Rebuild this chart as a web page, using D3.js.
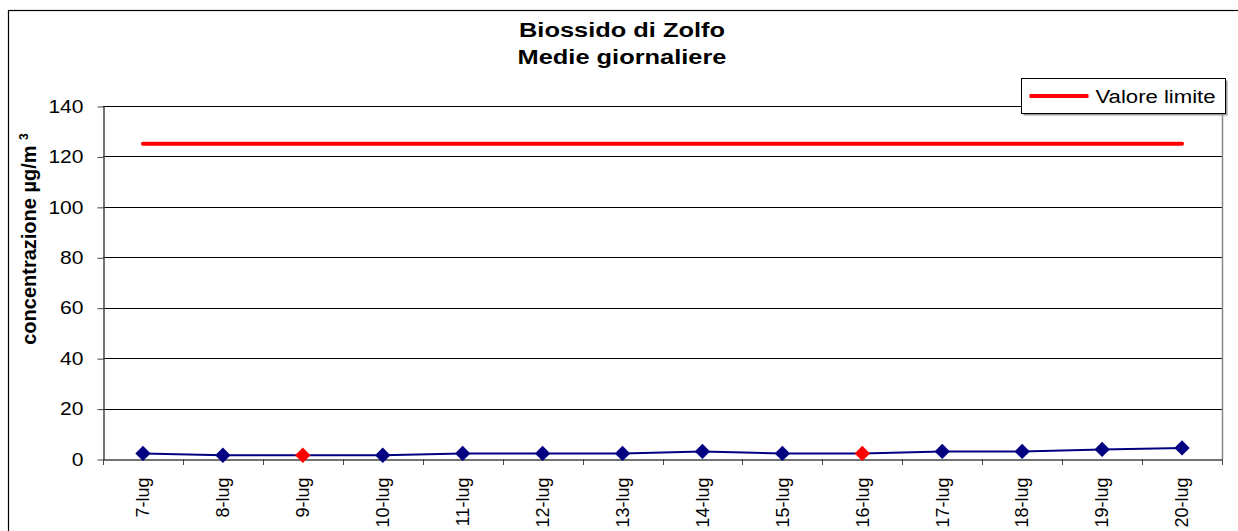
<!DOCTYPE html>
<html>
<head>
<meta charset="utf-8">
<script src="https://cdn.jsdelivr.net/npm/d3@7"></script>
<style>
  body { margin: 0; background: #fff; }
  svg { display: block; font-family: "Liberation Sans", Arial, sans-serif; }
</style>
</head>
<body>
<div id="chart"></div>
<script>
// dati
const giorni = ["7-lug", "8-lug", "9-lug", "10-lug", "11-lug", "12-lug", "13-lug",
                "14-lug", "15-lug", "16-lug", "17-lug", "18-lug", "19-lug", "20-lug"];
const medie = [2.2, 1.5, 1.5, 1.5, 2.2, 2.2, 2.2, 3, 2.2, 2.2, 3, 3, 3.8, 4.4];
const festivi = ["9-lug", "16-lug"];
const limite = 125;
const yTicks = [0, 20, 40, 60, 80, 100, 120, 140];

const width = 1238;
const height = 531;
const margin = { top: 106, right: 16, bottom: 72, left: 103 };
const font = "Liberation Sans, Arial, sans-serif";

const svg = d3.select("#chart").append("svg")
    .attr("width", width)
    .attr("height", height);

// bordo esterno
svg.append("rect")
    .attr("x", 8.5).attr("y", 10.5)
    .attr("width", width + 20).attr("height", height + 20)
    .attr("fill", "none").attr("stroke", "#000").attr("stroke-width", 1.2);

const x = d3.scaleBand()
    .domain(giorni)
    .range([margin.left, width - margin.right]);

const y = d3.scaleLinear()
    .domain([0, 140])
    .range([height - margin.bottom, margin.top]);

// griglia
svg.append("g")
    .selectAll("line")
    .data(yTicks.filter(d => d > 0))
    .join("line")
    .attr("x1", margin.left).attr("x2", width - margin.right)
    .attr("y1", d => Math.round(y(d)) + 0.5).attr("y2", d => Math.round(y(d)) + 0.5)
    .attr("stroke", "#000").attr("stroke-width", 1);

// bordo destro area grafico
svg.append("line")
    .attr("x1", width - margin.right + 0.5).attr("x2", width - margin.right + 0.5)
    .attr("y1", margin.top).attr("y2", height - margin.bottom)
    .attr("stroke", "#888").attr("stroke-width", 1.5);

// asse Y
const yAxis = svg.append("g")
    .attr("transform", `translate(${margin.left + 0.5},0.5)`)
    .call(d3.axisLeft(y).tickValues(yTicks).tickSize(6).tickSizeOuter(0));
yAxis.select(".domain").attr("stroke", "#444").attr("stroke-width", 1.5);
yAxis.selectAll(".tick line").attr("stroke", "#444");
yAxis.selectAll(".tick text")
    .attr("font-size", 18).attr("fill", "#000")
    .attr("font-family", font)
    .attr("x", 0)
    .attr("transform", "translate(-20,0) scale(1.17,1)");

// asse X
const xAxis = svg.append("g")
    .attr("transform", `translate(0,${Math.round(y(0)) + 0.5})`)
    .call(d3.axisBottom(x).tickSize(0).tickSizeOuter(0));
xAxis.select(".domain").attr("stroke", "#444").attr("stroke-width", 1.5);
xAxis.selectAll(".tick text")
    .attr("font-size", 18).attr("fill", "#000")
    .attr("font-family", font)
    .attr("transform", "rotate(-90)")
    .attr("text-anchor", "end")
    .attr("x", -18).attr("y", 0).attr("dy", "0.35em");

// tacche tra le categorie
svg.append("g")
    .selectAll("line")
    .data(giorni.map(d => x(d)).concat([x.range()[1]]))
    .join("line")
    .attr("x1", d => Math.round(d) + 0.5).attr("x2", d => Math.round(d) + 0.5)
    .attr("y1", y(0)).attr("y2", y(0) + 6)
    .attr("stroke", "#444").attr("stroke-width", 1);

const cx = d => x(d) + x.bandwidth() / 2;

// valore limite
svg.append("line")
    .attr("x1", cx(giorni[0])).attr("x2", cx(giorni[giorni.length - 1]))
    .attr("y1", y(limite)).attr("y2", y(limite))
    .attr("stroke", "#ff0000").attr("stroke-width", 4)
    .attr("stroke-linecap", "round");

// serie medie
const linea = d3.line()
    .x((d, i) => cx(giorni[i]))
    .y(d => y(d));

svg.append("path")
    .datum(medie)
    .attr("d", linea)
    .attr("fill", "none")
    .attr("stroke", "#000080")
    .attr("stroke-width", 2);

svg.append("g")
    .selectAll("path")
    .data(medie)
    .join("path")
    .attr("d", d3.symbol(d3.symbolDiamond2, 150))
    .attr("transform", (d, i) => `translate(${cx(giorni[i])},${y(d)})`)
    .attr("fill", (d, i) => festivi.includes(giorni[i]) ? "#ff0000" : "#000080");

// titolo
const titolo = svg.append("text")
    .attr("transform", "translate(622,0) scale(1.27,1)")
    .attr("text-anchor", "middle")
    .attr("font-size", 20).attr("font-weight", "bold");
titolo.append("tspan").attr("x", 0).attr("y", 37).text("Biossido di Zolfo");
titolo.append("tspan").attr("x", 0).attr("y", 64).text("Medie giornaliere");

// titolo asse Y
const yTitle = svg.append("text")
    .attr("transform", "translate(36,239) rotate(-90)")
    .attr("text-anchor", "middle")
    .attr("font-size", 20).attr("font-weight", "bold");
yTitle.append("tspan").text("concentrazione µg/m ");
yTitle.append("tspan").attr("font-size", 12).attr("dy", -8).text("3");

// legenda
const leg = svg.append("g").attr("transform", "translate(1021.5,78.5)");
leg.append("rect")
    .attr("x", 2).attr("y", 2).attr("width", 204).attr("height", 35)
    .attr("fill", "#999");
leg.append("rect")
    .attr("width", 204).attr("height", 35)
    .attr("fill", "#fff").attr("stroke", "#000");
leg.append("line")
    .attr("x1", 8).attr("x2", 67).attr("y1", 17.5).attr("y2", 17.5)
    .attr("stroke", "#ff0000").attr("stroke-width", 4);
leg.append("text")
    .attr("transform", "translate(74,24) scale(1.23,1)")
    .attr("font-size", 18)
    .text("Valore limite");
</script>
</body>
</html>
